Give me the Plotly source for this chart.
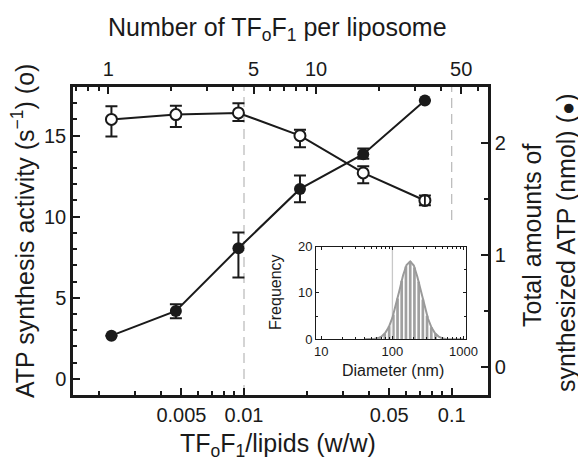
import math
import plotly.graph_objects as go

# ---------------- data ----------------
ww_ratio = [0.0023, 0.0047, 0.0094, 0.0186, 0.0375, 0.0743]          # TFoF1/lipids (w/w)
activity = [16.0, 16.3, 16.4, 15.0, 12.7, 11.0]                       # s^-1 (open circles)
activity_err_plus = [0.82, 0.55, 0.60, 0.37, 0.41, 0.30]
activity_err_minus = [1.06, 0.76, 0.50, 0.72, 0.63, 0.30]
atp_total = [0.28, 0.50, 1.06, 1.59, 1.90, 2.38]                      # nmol (filled circles)
atp_err_plus = [0.0, 0.06, 0.14, 0.12, 0.05, 0.0]
atp_err_minus = [0.0, 0.065, 0.26, 0.12, 0.04, 0.0]

n_per_ww = 450.0   # TFoF1 per liposome for 1 unit of w/w ratio (top axis)

bottom_tickvals = [0.005, 0.01, 0.05, 0.1]
bottom_ticktext = ["0.005", "0.01", "0.05", "0.1"]
bottom_minor = [0.002, 0.003, 0.004, 0.006, 0.007, 0.008, 0.009,
                0.02, 0.03, 0.04, 0.06, 0.07, 0.08, 0.09]
top_tickvals = [1, 5, 10, 50]
top_minor = [0.7, 0.8, 0.9, 2, 3, 4, 6, 7, 8, 9, 20, 30, 40, 60, 70]

ref_line_full = 0.01
ref_line_top = 0.1
ref_line_top_from = 9.8   # in activity units

# inset: liposome size distribution
bin_diam = [68, 78, 90, 103, 118, 135, 155, 178, 204, 234, 268, 307, 352, 404]
bin_freq = [0.5, 1.2, 2.8, 5.3, 8.8, 12.6, 15.7, 16.8, 15.5, 12.4, 8.6, 5.1, 2.6, 1.2]
fit_diam = [40, 50, 56, 63, 71, 79, 89, 100, 112, 126, 141, 158, 178, 200,
            224, 251, 282, 316, 355, 398, 447, 501, 562, 631, 800, 1000]
fit_freq = [0.0, 0.03, 0.1, 0.26, 0.65, 1.35, 2.64, 4.67, 7.44, 10.65, 13.76, 16.0,
            16.8, 15.9, 13.5, 10.4, 7.19, 4.48, 2.52, 1.28, 0.58, 0.24, 0.09, 0.03, 0.0, 0.0]
inset_marker_diam = 100

# ---------------- layout geometry ----------------
OFF = 8                       # page body margin of the browser
W, H = 586 - OFF, 461 - OFF
ML, MT = 73 - OFF, 87 - OFF
PW, PH = 415, 308
MR, MB = W - ML - PW, H - MT - PH

def px(xp):   # reference pixel x -> paper
    return (xp - OFF - ML) / PW

def py(yp):   # reference pixel y -> paper
    return (MT + PH - (yp - OFF)) / PH

FONT = "Liberation Sans, Arial, Helvetica, sans-serif"
INK = "#1a1a1a"
GREY = "#9a9a9a"

x_range = [-2.8233, -0.8252]
x2_range = [v + math.log10(n_per_ww) for v in x_range]

fig = go.Figure()

# reference dashed lines
fig.add_trace(go.Scatter(x=[ref_line_full, ref_line_full], y=[-1, 18], mode="lines",
                         line=dict(color="#b8b8b8", width=1.2, dash="10px,6px"),
                         xaxis="x", yaxis="y", hoverinfo="skip", showlegend=False))
fig.add_trace(go.Scatter(x=[ref_line_top, ref_line_top], y=[ref_line_top_from, 18], mode="lines",
                         line=dict(color="#b8b8b8", width=1.2, dash="10px,6px"),
                         xaxis="x", yaxis="y", hoverinfo="skip", showlegend=False))

# open circles: activity
fig.add_trace(go.Scatter(
    x=ww_ratio, y=activity, mode="lines+markers",
    line=dict(color=INK, width=2),
    marker=dict(symbol="circle", size=11, color="white", line=dict(color=INK, width=2)),
    error_y=dict(type="data", symmetric=False, array=activity_err_plus,
                 arrayminus=activity_err_minus, color=INK, thickness=2, width=6),
    xaxis="x", yaxis="y", showlegend=False))
# small error bar visible inside last open circle
fig.add_trace(go.Scatter(
    x=[ww_ratio[-1]], y=[activity[-1]], mode="markers",
    marker=dict(size=1, color="rgba(0,0,0,0)"),
    error_y=dict(type="data", array=[activity_err_plus[-1]], arrayminus=[activity_err_minus[-1]],
                 color=INK, thickness=1.8, width=3),
    xaxis="x", yaxis="y", showlegend=False, hoverinfo="skip"))

# filled circles: total ATP
fig.add_trace(go.Scatter(
    x=ww_ratio, y=atp_total, mode="lines+markers",
    line=dict(color=INK, width=2),
    marker=dict(symbol="circle", size=12, color=INK),
    error_y=dict(type="data", symmetric=False, array=atp_err_plus,
                 arrayminus=atp_err_minus, color=INK, thickness=2, width=6),
    xaxis="x", yaxis="y2", showlegend=False))

# invisible trace so the top axis is drawn
fig.add_trace(go.Scatter(
    x=[v * n_per_ww for v in ww_ratio], y=activity, mode="markers",
    marker=dict(size=1, color="rgba(0,0,0,0)"), xaxis="x2", yaxis="y",
    hoverinfo="skip", showlegend=False))

# inset: histogram bars as thick vertical strokes
bx, by = [], []
for d, f in zip(bin_diam, bin_freq):
    bx += [d, d, None]
    by += [0, f, None]
fig.add_trace(go.Scatter(x=bx, y=by, mode="lines", line=dict(color="#a0a0a0", width=2.7),
                         xaxis="x3", yaxis="y3", hoverinfo="skip", showlegend=False))
fig.add_trace(go.Scatter(x=[inset_marker_diam, inset_marker_diam], y=[0, 20], mode="lines",
                         line=dict(color="#c8c8c8", width=1.3),
                         xaxis="x3", yaxis="y3", hoverinfo="skip", showlegend=False))
fig.add_trace(go.Scatter(x=fit_diam, y=fit_freq, mode="lines", line=dict(color=GREY, width=2),
                         xaxis="x3", yaxis="y3", hoverinfo="skip", showlegend=False))

main_axis = dict(showline=True, linecolor=INK, linewidth=2.5, ticks="inside",
                 tickcolor=INK, tickwidth=2, ticklen=7, showgrid=False, zeroline=False,
                 tickfont=dict(family=FONT, size=20, color=INK))
minor_main = dict(ticks="inside", ticklen=4, tickwidth=1.5, tickcolor=INK, showgrid=False)

fig.update_layout(
    width=W, height=H,
    margin=dict(l=ML, r=MR, t=MT, b=MB, pad=0),
    paper_bgcolor="white", plot_bgcolor="white",
    font=dict(family=FONT, color=INK),
    showlegend=False,
    xaxis=dict(type="log", range=x_range, domain=[0, 1], anchor="y",
               tickmode="array", tickvals=bottom_tickvals, ticktext=bottom_ticktext,
               minor=dict(tickmode="array", tickvals=bottom_minor, **minor_main),
               **main_axis),
    xaxis2=dict(type="log", range=x2_range, overlaying="x", side="top", anchor="y",
                tickmode="array", tickvals=top_tickvals, ticktext=[str(v) for v in top_tickvals],
                minor=dict(tickmode="array", tickvals=top_minor, **minor_main),
                **main_axis),
    yaxis=dict(range=[-1, 18], domain=[0, 1], anchor="x",
               tickmode="array", tickvals=[0, 5, 10, 15],
               minor=dict(tickmode="linear", tick0=0, dtick=1, **minor_main),
               **main_axis),
    yaxis2=dict(range=[-0.25, 2.5], overlaying="y", side="right", anchor="x",
                tickmode="array", tickvals=[0, 1, 2],
                minor=dict(tickmode="array", tickvals=[0.5, 1.5], **minor_main),
                **main_axis),
    xaxis3=dict(type="log", range=[0.925, 3.028], domain=[px(316), px(465.5)], anchor="y3",
                showline=True, linecolor=INK, linewidth=1, mirror="allticks",
                ticks="inside", ticklen=3, tickwidth=1, tickcolor=INK,
                tickmode="array", tickvals=[10, 100, 1000], ticktext=["10", "100", "1000"],
                minor=dict(tickmode="array", tickvals=[20, 30, 40, 50, 60, 70, 80, 90,
                                                       200, 300, 400, 500, 600, 700, 800, 900],
                           ticks="inside", ticklen=2, tickwidth=1, tickcolor=INK),
                showgrid=False, zeroline=False,
                tickfont=dict(family=FONT, size=13, color=INK)),
    yaxis3=dict(range=[0, 20], domain=[py(339.3), py(246.5)], anchor="x3",
                showline=True, linecolor=INK, linewidth=1, mirror="allticks",
                ticks="inside", ticklen=3, tickwidth=1, tickcolor=INK,
                tickmode="array", tickvals=[0, 10, 20],
                minor=dict(tickmode="array", tickvals=[5, 15], ticks="inside", ticklen=2,
                           tickwidth=1, tickcolor=INK),
                showgrid=False, zeroline=False,
                tickfont=dict(family=FONT, size=13, color=INK)),
)

ann_font = dict(family=FONT, size=25, color=INK)
annotations = [
    dict(text="Number of TF<sub>o</sub>F<sub>1</sub> per liposome", x=px(277), y=py(29)),
    dict(text="TF<sub>o</sub>F<sub>1</sub>/lipids (w/w)", x=px(278), y=py(445)),
    dict(text="ATP synthesis activity (s<sup>−1</sup>) (o)", x=px(23), y=py(231), textangle=-90),
    dict(text="Total amounts of", x=px(532), y=py(236), textangle=-90),
    dict(text="synthesized ATP (nmol) (<span style='font-size:22px'>●</span>)",
         x=px(566), y=py(243), textangle=-90),
]
for a in annotations:
    fig.add_annotation(xref="paper", yref="paper", showarrow=False, font=ann_font,
                       xanchor="center", yanchor="middle", **a)

inset_font = dict(family=FONT, size=16, color=INK)
fig.add_annotation(text="Diameter (nm)", x=px(393), y=py(370), xref="paper", yref="paper",
                   showarrow=False, font=inset_font, xanchor="center", yanchor="middle")
fig.add_annotation(text="Frequency", x=px(275), y=py(292), xref="paper", yref="paper",
                   showarrow=False, font=inset_font, xanchor="center", yanchor="middle",
                   textangle=-90)

fig.write_html("out.html")
